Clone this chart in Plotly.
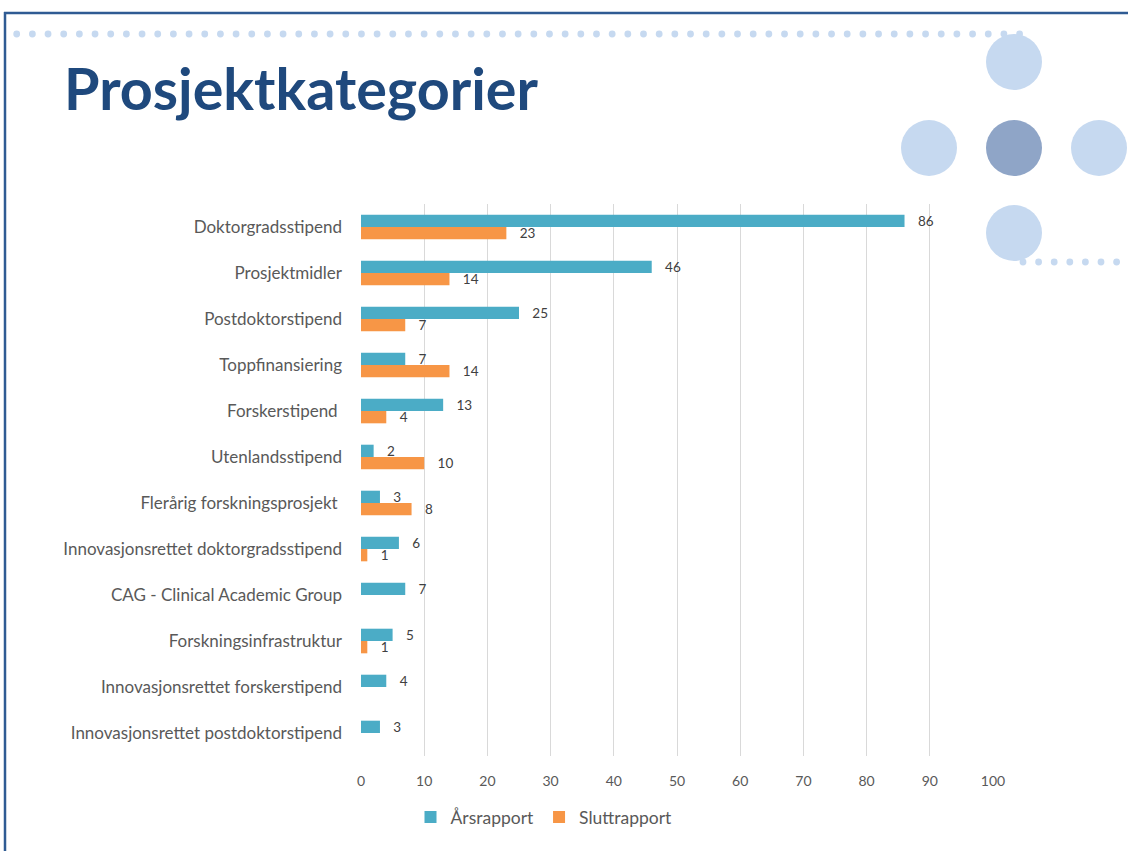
import plotly.graph_objects as go

categories = [
    "Doktorgradsstipend", "Prosjektmidler", "Postdoktorstipend", "Toppfinansiering",
    "Forskerstipend ", "Utenlandsstipend", "Flerårig forskningsprosjekt ",
    "Innovasjonsrettet doktorgradsstipend", "CAG - Clinical Academic Group",
    "Forskningsinfrastruktur", "Innovasjonsrettet forskerstipend",
    "Innovasjonsrettet postdoktorstipend",
]
arsrapport = [86, 46, 25, 7, 13, 2, 3, 6, 7, 5, 4, 3]
sluttrapport = [23, 14, 7, 14, 4, 10, 8, 1, None, 1, None, None]
x_ticks = [0, 10, 20, 30, 40, 50, 60, 70, 80, 90, 100]

W, H = 1128, 851
L, R, T, B = 361, 135, 204, 95
PW, PH = W - L - R, H - T - B

def px(x):
    return (x - L) / PW

def py(y):
    return (H - B - y) / PH

teal = "#4bacc6"
orange = "#f79646"
font = "Lato"

fig = go.Figure()
fig.add_trace(go.Bar(
    y=categories, x=arsrapport, name="Årsrapport", orientation="h",
    marker=dict(color=teal, line=dict(width=0)),
    text=[f"   {v}" for v in arsrapport], textposition="outside", constraintext="none",
    textfont=dict(family=font, size=13.5, color="#404040"), cliponaxis=False,
))
fig.add_trace(go.Bar(
    y=categories, x=sluttrapport, name="Sluttrapport", orientation="h",
    marker=dict(color=orange, line=dict(width=0)),
    text=[f"   {v}" if v is not None else "" for v in sluttrapport], textposition="outside",
    constraintext="none",
    textfont=dict(family=font, size=13.5, color="#404040"), cliponaxis=False,
))

shapes = []
light = "#c6d9f0"
dark = "#8fa5c7"

def dot(cx, cy, r, col):
    return dict(type="circle", xref="paper", yref="paper",
                x0=px(cx - r), x1=px(cx + r), y0=py(cy + r), y1=py(cy - r),
                fillcolor=col, line=dict(width=0), layer="above")

for i in range(65):
    shapes.append(dot(16.7 + i * 15.67, 34, 3.4, light))
for i in range(7):
    shapes.append(dot(1023 + i * 15.6, 262, 3.4, light))
for (cx, cy, col) in [(1014, 62, light), (929, 148, light), (1014, 148, dark),
                      (1099, 148, light), (1014, 233, light)]:
    shapes.append(dot(cx, cy, 28, col))

border = "#2f5b93"
shapes.append(dict(type="line", xref="paper", yref="paper",
                   x0=px(4), x1=px(W + 5), y0=py(13), y1=py(13),
                   line=dict(color=border, width=2.5), layer="above"))
shapes.append(dict(type="line", xref="paper", yref="paper",
                   x0=px(5), x1=px(5), y0=py(12), y1=py(H + 5),
                   line=dict(color=border, width=2.5), layer="above"))

fig.update_layout(
    width=W, height=H,
    margin=dict(l=L, r=R, t=T, b=B, pad=0),
    paper_bgcolor="white", plot_bgcolor="white",
    barmode="group", bargap=0.465, bargroupgap=0,
    shapes=shapes,
    showlegend=True,
    legend=dict(orientation="h", x=px(544), xanchor="center", y=py(817), yanchor="middle",
                font=dict(family=font, size=17.5, color="#595959"), traceorder="normal",
                itemwidth=30),
    annotations=[dict(text="<b>Prosjektkategorier</b>", xref="paper", yref="paper",
                      x=px(62), y=py(88), xanchor="left", yanchor="middle", showarrow=False,
                      font=dict(family=font, size=57.5, color="#1f497d"))],
    xaxis=dict(range=[0, 100], tickvals=x_ticks, showgrid=True, gridcolor="#d9d9d9", gridwidth=1,
               zeroline=False, showline=False, ticks="outside", ticklen=12, tickcolor="rgba(0,0,0,0)",
               tickfont=dict(family=font, size=14, color="#595959"), fixedrange=True),
    yaxis=dict(autorange="reversed", showgrid=False, zeroline=False, showline=False,
               ticks="", ticklabelstandoff=18,
               tickfont=dict(family=font, size=17, color="#595959")),
)

fig.write_html("out.html", post_script="document.body.style.margin='0';",
               config={"displayModeBar": False})
